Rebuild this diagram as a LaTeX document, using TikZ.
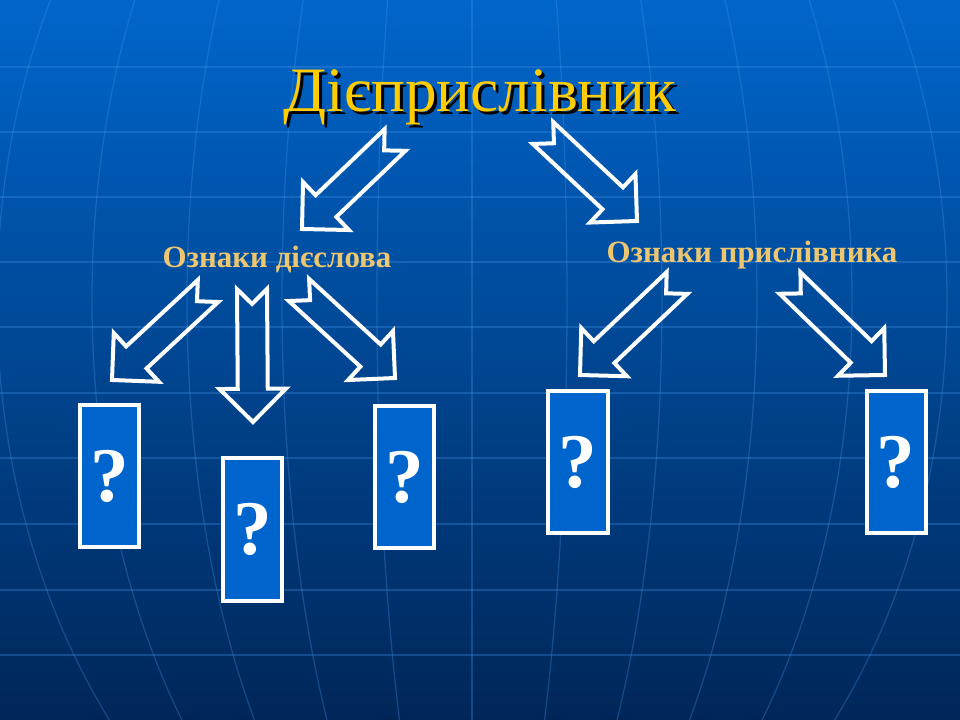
\documentclass[tikz,border=0pt]{standalone}
\usepackage{fontspec}
\setmainfont{Liberation Serif}
\usetikzlibrary{calc,positioning}

\definecolor{bgtop}{RGB}{0,102,204}
\definecolor{bgbottom}{RGB}{0,38,88}
\definecolor{gridblue}{RGB}{70,150,235}
\definecolor{boxblue}{RGB}{0,100,205}
\definecolor{titlegold}{RGB}{255,204,0}
\definecolor{labelgold}{RGB}{238,198,112}

\newcommand\ashaft{0.375cm}
\newcommand\abarb{0.83cm}
\newcommand\ahead{0.83cm}
\newcommand\blockarr[2]{%
  \coordinate (ba) at ($(#2)!\ahead!(#1)$);
  \draw[blockarrow] ($(#1)!\ashaft!90:(#2)$) -- ($(ba)!\ashaft!90:(#2)$) -- ($(ba)!\abarb!90:(#2)$)
    -- (#2) -- ($(ba)!\abarb!-90:(#2)$) -- ($(ba)!\ashaft!-90:(#2)$) -- ($(#1)!\ashaft!-90:(#2)$)
    -- ($(#1)!\ashaft!(#2)$) -- cycle;
}

\begin{document}
\begin{tikzpicture}[x=0.025cm, y=-0.025cm,
    gridline/.style={gridblue, opacity=0.3, line width=0.9pt},
    qbox/.style={draw=white, line width=0.1cm, fill=boxblue, minimum width=1.475cm, minimum height=3.55cm,
        inner sep=0pt, text=white, font=\fontsize{55}{60}\selectfont\bfseries},
    sign/.style={text=labelgold, font=\fontsize{22}{26}\selectfont\bfseries, anchor=base, inner sep=0pt},
    heading/.style={font=\fontsize{45}{50}\selectfont, anchor=base, inner sep=0pt},
    blockarrow/.style={draw=white, line width=0.1cm, miter limit=10}
]
\fill[top color=bgtop, bottom color=bgbottom] (0,0) rectangle (960,720);
\begin{scope}
\clip (0,0) rectangle (960,720);
\foreach \y in {67,132,197,262,327,393,458,524,590,655}
    \draw[gridline] (0,\y) -- (960,\y);
\draw[gridline] (472,0) -- (472,720);
\foreach \k in {1,...,5}
    \draw[gridline] (472,300) ellipse [x radius=\k*95, y radius=650];
\end{scope}

\node[heading, text=black] (title-shadow) at (483,115) {Дієприслівник};
\node[heading, text=titlegold] (title) at (480,112) {Дієприслівник};
\node[sign] (verb) at (277,268) {Ознаки дієслова};
\node[sign] (adverb) at (752,263) {Ознаки прислівника};

\node[qbox] (q1) at (109.5,476) {?};
\node[qbox] (q2) at (252.5,529.5) {?};
\node[qbox] (q3) at (404.5,477) {?};
\node[qbox] (q4) at (578,462) {?};
\node[qbox] (q5) at (896,462) {?};

\coordinate (t1) at (395,140);  \coordinate (h1) at (302,229);
\coordinate (t2) at (543,133);  \coordinate (h2) at (637,221);
\coordinate (t3) at (208,291);  \coordinate (h3) at (112,380);
\coordinate (t4) at (252,289);  \coordinate (h4) at (253,422);
\coordinate (t5) at (299,290);  \coordinate (h5) at (395,378);
\coordinate (t6) at (677,283);  \coordinate (h6) at (580,375);
\coordinate (t7) at (790,283);  \coordinate (h7) at (885,375);
\foreach \i in {1,...,7}{
    \blockarr{t\i}{h\i}
}
\end{tikzpicture}
\end{document}
